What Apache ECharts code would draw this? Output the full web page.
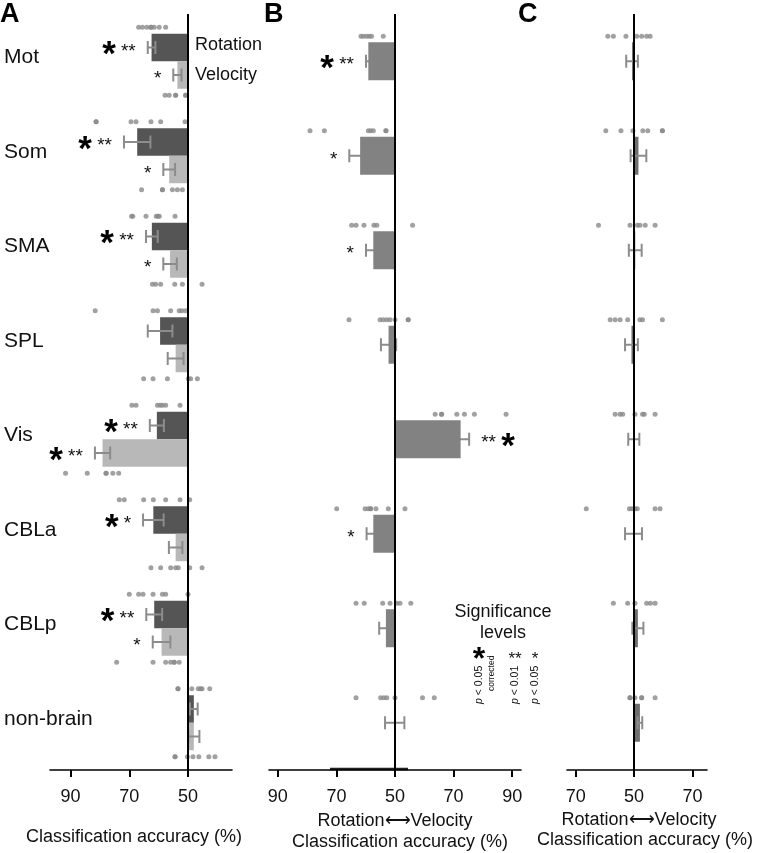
<!DOCTYPE html>
<html><head><meta charset="utf-8">
<script src="https://cdn.jsdelivr.net/npm/echarts@6/dist/echarts.min.js"></script>
<style>html,body{margin:0;padding:0;background:#fff}#c{width:757px;height:853px}</style>
</head><body><div id="c"></div>
<script>
// ---------- DATA ----------
const regions = ['Mot','Som','SMA','SPL','Vis','CBLa','CBLp','non-brain'];

// Panel A: classification accuracy (%)
const rotMean = [62.4, 67.3, 62.3, 59.5, 60.6, 61.8, 61.5, 48.0];
const rotSem  = [1.3, 4.5, 2.0, 4.2, 2.4, 3.5, 2.7, 1.3];
const velMean = [53.6, 56.4, 56.1, 54.2, 79.1, 54.2, 59.0, 48.0];
const velSem  = [1.4, 2.0, 2.3, 2.7, 2.6, 2.3, 3.0, 1.9];
const rotStars = ['**','**','**','','**','*','**',''];
const rotCorrected = [1,1,1,0,1,1,1,0];
const velStars = ['*','*','*','','**','','*',''];
const velCorrected = [0,0,0,0,1,0,0,0];
const rotDots = [
  [66.8, 65.5, 64.0, 62.6, 62.6, 61.5, 59.8, 57.6],
  [81.3, 81.3, 69.4, 67.7, 62.6, 59.3, 51.0],
  [69.2, 68.8, 64.3, 60.8, 60.2, 59.8, 54.4],
  [81.6, 61.9, 60.4, 55.9, 53.0, 52.1, 50.8],
  [69.1, 67.7, 60.4, 59.5, 58.7, 57.6, 52.7],
  [73.4, 71.7, 65.1, 61.8, 57.6, 52.7, 49.4],
  [70.0, 66.8, 65.3, 61.9, 58.7, 57.6, 50.0],
  [53.4, 53.4, 48.7, 46.5, 45.7, 45.2, 42.6]
];
const velDots = [
  [57.8, 56.4, 54.2, 54.2, 50.8, 50.8],
  [65.8, 58.7, 58.7, 55.3, 53.6, 51.9],
  [62.1, 61.0, 59.3, 54.5, 51.9, 45.2],
  [65.1, 61.9, 57.0, 49.9, 49.1, 46.8],
  [91.7, 84.3, 77.9, 77.9, 75.6, 73.6],
  [62.6, 59.3, 55.9, 54.2, 53.3, 49.4, 45.2],
  [74.3, 61.9, 57.6, 55.9, 54.7, 54.7, 53.0],
  [54.4, 54.4, 50.2, 48.3, 46.3, 42.9, 40.8]
];

// Panel B: rotation (-) vs velocity (+), accuracy minus 50
const bMean = [-9.1, -11.9, -7.4, -2.2, 22.4, -7.4, -3.1, -0.1];
const bSem  = [0.8, 3.7, 2.5, 2.6, 2.9, 2.3, 2.3, 3.3];
const bStars = ['**','*','*','','**','*','',''];
const bCorrected = [1,0,0,0,1,0,0,0];
const bDots = [
  [-11.6, -10.8, -9.7, -8.8, -8.0, -4.0],
  [-29.0, -24.1, -9.1, -8.3, -7.4, -3.1, -3.1],
  [-14.8, -13.3, -10.6, -7.2, -6.2, 6.0],
  [-15.7, -5.1, -4.0, -2.8, -1.7, 0.0, 4.5, 4.5],
  [13.7, 15.9, 15.9, 21.1, 23.7, 27.1, 37.9],
  [-19.9, -10.2, -9.1, -8.3, -8.3, -6.5, -2.3, 3.4],
  [-13.3, -10.5, -4.2, -1.7, 0.6, 1.7, 5.4],
  [-13.3, -4.9, -3.8, -2.8, 0.0, 9.4, 13.4]
];

// Panel C
const cMean = [-0.7, 1.5, 0.4, -0.9, -0.1, -0.2, 1.3, 2.0];
const cSem  = [2.0, 2.7, 2.2, 2.2, 1.9, 2.9, 1.9, 0.8];
const cDots = [
  [-9.0, -7.1, -2.8, 0.9, 2.6, 4.3, 5.5],
  [-9.7, -4.5, -0.4, 3.0, 4.7, 9.7, 9.7],
  [-12.2, -1.4, 1.1, 2.0, 3.8, 7.2],
  [-8.2, -6.5, -4.8, -2.2, 2.0, 2.9, 9.7],
  [-6.5, -4.8, -3.9, 0.3, 2.9, 3.5, 7.2],
  [-16.4, -1.6, -0.8, 0.3, 1.1, 7.2, 8.9],
  [-7.1, -2.2, 0.3, 4.3, 5.6, 7.2],
  [-1.4, -1.4, 0.3, 2.6, 2.6, 7.2]
];

const ticksA = [50, 70, 90];
const ticksB = [-40, -20, 0, 20, 40];
const ticksC = [-20, 0, 20];

// ---------- STYLE ----------
const FONT = "'Liberation Sans', Arial, Helvetica, sans-serif";
const DOT = '#8a8a8a', ERR = '#8c8c8c';

function barRender(refVal, yOff, h, color) {
  return function (params, api) {
    const v = api.value(0), cat = api.value(1);
    const p0 = api.coord([refVal, cat]);
    const p1 = api.coord([v, cat]);
    return {
      type: 'rect',
      shape: { x: Math.min(p0[0], p1[0]), y: p0[1] + yOff, width: Math.abs(p1[0] - p0[0]), height: h },
      style: { fill: color }
    };
  };
}

function errRender(refVal, semArr, yOff, starsArr, corrArr) {
  return function (params, api) {
    const i = params.dataIndex;
    const v = api.value(0), cat = api.value(1);
    const s = semArr[i];
    const lo = api.coord([v - s, cat]), hi = api.coord([v + s, cat]);
    const ref = api.coord([refVal, cat])[0];
    const y = lo[1] + yOff;
    const st = { stroke: ERR, lineWidth: 2 };
    const ch = [
      { type: 'line', shape: { x1: lo[0], y1: y, x2: hi[0], y2: y }, style: st },
      { type: 'line', shape: { x1: lo[0], y1: y - 6.5, x2: lo[0], y2: y + 6.5 }, style: st },
      { type: 'line', shape: { x1: hi[0], y1: y - 6.5, x2: hi[0], y2: y + 6.5 }, style: st }
    ];
    if (starsArr) {
      const small = starsArr[i], big = corrArr[i];
      const outer = Math.abs(lo[0] - ref) > Math.abs(hi[0] - ref) ? lo[0] : hi[0];
      const dir = outer < ref ? -1 : 1;
      let x = outer + dir * 12;
      const align = dir < 0 ? 'right' : 'left';
      if (small) {
        ch.push({ type: 'text', x: x, y: y + 4,
          style: { text: small, font: '19px ' + FONT, align: align, verticalAlign: 'middle', fill: '#111' } });
        x += dir * (small.length * 7.5 + 5);
      }
      if (big) {
        ch.push({ type: 'text', x: x, y: y + 8,
          style: { text: '*', font: 'bold 35px ' + FONT, align: align, verticalAlign: 'middle', fill: '#000' } });
      }
    }
    return { type: 'group', children: ch };
  };
}

function dots(arr) {
  const out = [];
  arr.forEach((vals, i) => vals.forEach(v => out.push([v, i])));
  return out;
}

const refLine = (val) => ({
  silent: true, symbol: ['none', 'none'], label: { show: false },
  lineStyle: { color: '#000', width: 2, type: 'solid' },
  data: [{ xAxis: val }], z: 10
});

const axisCommon = {
  type: 'value',
  axisLine: { show: true, onZero: false, lineStyle: { color: '#000', width: 1.6 } },
  axisTick: { show: true, inside: false, length: 7, lineStyle: { color: '#000', width: 2 } },
  axisLabel: { color: '#111', fontSize: 18, fontFamily: FONT, margin: 18 },
  splitLine: { show: false }
};

const yCommon = {
  type: 'category', data: regions, inverse: true,
  axisLine: { show: false }, axisTick: { show: false }, splitLine: { show: false }
};

const pRich = { i: { fontStyle: 'italic', fontSize: 10.5, fontFamily: FONT } };

const option = {
  animation: false,
  backgroundColor: '#fff',
  grid: [
    { left: 50, width: 182, top: 14, height: 756 },
    { left: 269, width: 252, top: 14, height: 756 },
    { left: 567, width: 140, top: 14, height: 756 }
  ],
  xAxis: [
    Object.assign({}, axisCommon, { gridIndex: 0, min: 35, max: 97, inverse: true,
      axisTick: Object.assign({}, axisCommon.axisTick, { customValues: ticksA }),
      axisLabel: Object.assign({}, axisCommon.axisLabel, { customValues: ticksA }) }),
    Object.assign({}, axisCommon, { gridIndex: 1, min: -43, max: 43,
      axisTick: Object.assign({}, axisCommon.axisTick, { customValues: ticksB }),
      axisLabel: Object.assign({}, axisCommon.axisLabel, { customValues: ticksB, formatter: v => String(50 + Math.abs(v)) }) }),
    Object.assign({}, axisCommon, { gridIndex: 2, min: -23, max: 25,
      axisTick: Object.assign({}, axisCommon.axisTick, { customValues: ticksC }),
      axisLabel: Object.assign({}, axisCommon.axisLabel, { customValues: ticksC, formatter: v => String(50 + Math.abs(v)) }) })
  ],
  yAxis: [
    Object.assign({}, yCommon, { gridIndex: 0,
      axisLabel: { show: true, align: 'left', margin: 46, color: '#111', fontSize: 21, fontFamily: FONT,
        formatter: v => '{a|' + v + '}',
        rich: { a: { fontSize: 21, fontFamily: FONT, color: '#111', padding: [0, 0, 8, 0] } } } }),
    Object.assign({}, yCommon, { gridIndex: 1, axisLabel: { show: false } }),
    Object.assign({}, yCommon, { gridIndex: 2, axisLabel: { show: false } })
  ],
  series: [
    // Panel A
    { type: 'custom', xAxisIndex: 0, yAxisIndex: 0, renderItem: barRender(50, -27.5, 27.5, '#555555'),
      data: rotMean.map((m, i) => [m, i]), encode: { x: 0, y: 1 }, z: 2 },
    { type: 'custom', xAxisIndex: 0, yAxisIndex: 0, renderItem: barRender(50, 0, 27.5, '#b8b8b8'),
      data: velMean.map((m, i) => [m, i]), encode: { x: 0, y: 1 }, z: 2 },
    { type: 'scatter', xAxisIndex: 0, yAxisIndex: 0, data: dots(rotDots), symbolSize: 5,
      symbolOffset: [0, -34], itemStyle: { color: DOT }, z: 3, markLine: refLine(50) },
    { type: 'scatter', xAxisIndex: 0, yAxisIndex: 0, data: dots(velDots), symbolSize: 5,
      symbolOffset: [0, 34], itemStyle: { color: DOT }, z: 3 },
    { type: 'custom', xAxisIndex: 0, yAxisIndex: 0, renderItem: errRender(50, rotSem, -13.75, rotStars, rotCorrected),
      data: rotMean.map((m, i) => [m, i]), encode: { x: 0, y: 1 }, z: 4 },
    { type: 'custom', xAxisIndex: 0, yAxisIndex: 0, renderItem: errRender(50, velSem, 13.75, velStars, velCorrected),
      data: velMean.map((m, i) => [m, i]), encode: { x: 0, y: 1 }, z: 4 },
    // Panel B
    { type: 'custom', xAxisIndex: 1, yAxisIndex: 1, renderItem: errRender(0, bSem, 0, bStars, bCorrected),
      data: bMean.map((m, i) => [m, i]), encode: { x: 0, y: 1 }, z: 2 },
    { type: 'custom', xAxisIndex: 1, yAxisIndex: 1, renderItem: barRender(0, -19, 38, '#828282'),
      data: bMean.map((m, i) => [m, i]), encode: { x: 0, y: 1 }, z: 3 },
    { type: 'scatter', xAxisIndex: 1, yAxisIndex: 1, data: dots(bDots), symbolSize: 5,
      symbolOffset: [0, -25], itemStyle: { color: DOT }, z: 3, markLine: refLine(0) },
    // Panel C
    { type: 'custom', xAxisIndex: 2, yAxisIndex: 2, renderItem: barRender(0, -19, 38, '#6e6e6e'),
      data: cMean.map((m, i) => [m, i]), encode: { x: 0, y: 1 }, z: 2 },
    { type: 'custom', xAxisIndex: 2, yAxisIndex: 2, renderItem: errRender(0, cSem, 0, null, null),
      data: cMean.map((m, i) => [m, i]), encode: { x: 0, y: 1 }, z: 3 },
    { type: 'scatter', xAxisIndex: 2, yAxisIndex: 2, data: dots(cDots), symbolSize: 5,
      symbolOffset: [0, -25], itemStyle: { color: DOT }, z: 3, markLine: refLine(0) }
  ],
  graphic: [
    { type: 'text', left: 0, top: 1, style: { text: 'A', font: 'bold 27px ' + FONT, fill: '#000' } },
    { type: 'text', left: 264, top: 1, style: { text: 'B', font: 'bold 27px ' + FONT, fill: '#000' } },
    { type: 'text', left: 518, top: 1, style: { text: 'C', font: 'bold 27px ' + FONT, fill: '#000' } },
    { type: 'text', x: 195, y: 45, style: { text: 'Rotation', font: '18px ' + FONT, fill: '#111', verticalAlign: 'middle' } },
    { type: 'text', x: 195, y: 75, style: { text: 'Velocity', font: '18px ' + FONT, fill: '#111', verticalAlign: 'middle' } },
    // axis titles
    { type: 'text', x: 134, y: 837, style: { text: 'Classification accuracy (%)', font: '18px ' + FONT, fill: '#111', align: 'center', verticalAlign: 'middle' } },
    { type: 'text', x: 395, y: 821, style: { text: 'Rotation\u27F7Velocity', font: '18px ' + FONT, fill: '#111', align: 'center', verticalAlign: 'middle' } },
    { type: 'text', x: 400, y: 842, style: { text: 'Classification accuracy (%)', font: '18px ' + FONT, fill: '#111', align: 'center', verticalAlign: 'middle' } },
    { type: 'text', x: 639, y: 820, style: { text: 'Rotation\u27F7Velocity', font: '18px ' + FONT, fill: '#111', align: 'center', verticalAlign: 'middle' } },
    { type: 'text', x: 645, y: 840, style: { text: 'Classification accuracy (%)', font: '18px ' + FONT, fill: '#111', align: 'center', verticalAlign: 'middle' } },
    // significance legend
    { type: 'text', x: 503, y: 612, style: { text: 'Significance', font: '18px ' + FONT, fill: '#111', align: 'center', verticalAlign: 'middle' } },
    { type: 'text', x: 503, y: 633, style: { text: 'levels', font: '18px ' + FONT, fill: '#111', align: 'center', verticalAlign: 'middle' } },
    { type: 'text', x: 479, y: 660, style: { text: '*', font: 'bold 32px ' + FONT, fill: '#000', align: 'center', verticalAlign: 'middle' } },
    { type: 'text', x: 515, y: 659, style: { text: '**', font: '17px ' + FONT, fill: '#111', align: 'center', verticalAlign: 'middle' } },
    { type: 'text', x: 535, y: 659, style: { text: '*', font: '17px ' + FONT, fill: '#111', align: 'center', verticalAlign: 'middle' } },
    { type: 'text', x: 479, y: 704, rotation: Math.PI / 2, style: { text: '{i|p} < 0.05', font: '10.5px ' + FONT, fill: '#111', align: 'left', verticalAlign: 'middle', rich: pRich } },
    { type: 'text', x: 492, y: 691, rotation: Math.PI / 2, style: { text: 'corrected', font: '8.5px ' + FONT, fill: '#111', align: 'left', verticalAlign: 'middle' } },
    { type: 'text', x: 515, y: 704, rotation: Math.PI / 2, style: { text: '{i|p} < 0.01', font: '10.5px ' + FONT, fill: '#111', align: 'left', verticalAlign: 'middle', rich: pRich } },
    { type: 'text', x: 535, y: 704, rotation: Math.PI / 2, style: { text: '{i|p} < 0.05', font: '10.5px ' + FONT, fill: '#111', align: 'left', verticalAlign: 'middle', rich: pRich } },
    { type: 'line', shape: { x1: 330, y1: 769, x2: 408, y2: 769 }, style: { stroke: '#222', lineWidth: 2.5 } }
  ]
};

const chart = echarts.init(document.getElementById('c'), null, { renderer: 'canvas' });
chart.setOption(option);
</script></body></html>
